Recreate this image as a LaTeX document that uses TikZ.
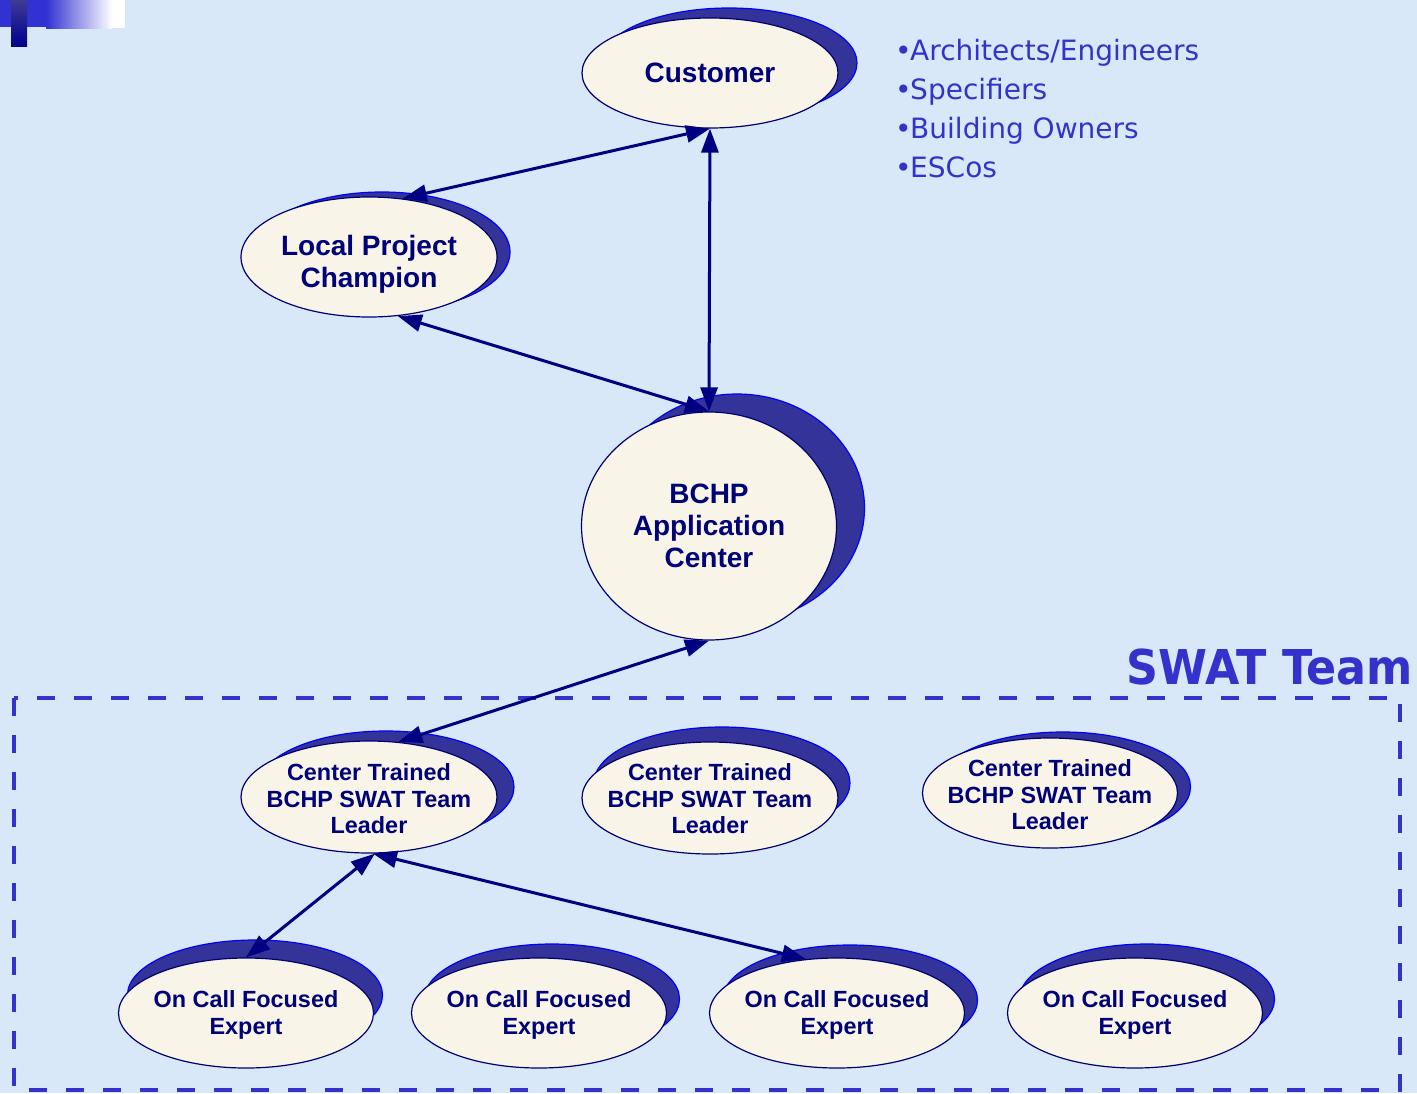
\documentclass[tikz,border=0pt]{standalone}
\usepackage{fontspec}
\setmainfont{Liberation Sans}
\newfontfamily\dvs{DejaVu Sans}
\usetikzlibrary{shapes.geometric,shadows,arrows.meta}
\definecolor{bgc}{RGB}{216,232,248}
\definecolor{cream}{RGB}{248,244,232}
\definecolor{navy}{RGB}{0,0,110}
\definecolor{txtc}{RGB}{0,0,120}
\definecolor{shc}{RGB}{51,51,153}
\definecolor{shedge}{RGB}{0,0,255}
\definecolor{listc}{RGB}{51,51,204}
\definecolor{arrc}{RGB}{0,0,128}
\definecolor{blk}{RGB}{50,50,210}
\definecolor{bartop}{RGB}{60,60,150}
\definecolor{barbot}{RGB}{0,0,140}
\newcommand{\bul}{•\kern-1.5pt}
\begin{document}
\begin{tikzpicture}[x=1pt,y=-1pt,
  ell/.style={ellipse, draw=navy, fill=cream, line width=1.2pt, inner sep=0pt},
  shad/.style 2 args={drop shadow={shadow xshift=#1, shadow yshift=#2, fill=shc, draw=shedge, line width=1.2pt, opacity=1}},
  big/.style={minimum width=256pt, minimum height=110pt},
  lbl/.style={text=txtc, align=center, font=\bfseries\fontsize{28}{32}\selectfont},
  slbl/.style={text=txtc, align=center, font=\bfseries\fontsize{23.4}{26.6}\selectfont},
  litem/.style={text=listc, anchor=base west, inner sep=0pt, font=\dvs\fontsize{28}{39}\selectfont},
  arr/.style={draw=arrc, line width=3pt, {Triangle[length=24pt,width=17pt]}-{Triangle[length=24pt,width=17pt]}},
  swatbox/.style={draw=listc, line width=4pt, dash pattern=on 18pt off 19pt}
]
\fill[bgc] (0,0) rectangle (1417,1093);
\useasboundingbox (0,0) rectangle (1417,1093);
% top-left decoration
\fill[blk] (0,0) rectangle (46,27);
\shade[left color=blk, right color=white] (46,0) rectangle (112,28);
\fill[white] (112,0) rectangle (125,28);
\shade[top color=bartop, bottom color=barbot] (11,0) rectangle (27,46);

% SWAT box
\draw[swatbox] (14,698) rectangle (1400,1090);
\node[text=listc, anchor=base east, inner sep=0pt, font=\dvs\bfseries\fontsize{48}{50}\selectfont] (swat) at (1413,684) {\scalebox{0.925}[1]{SWAT Team}};

% list
\node[litem] (l1) at (895,60) {\bul Architects/Engineers};
\node[litem] (l2) at (895,99) {\bul Specifiers};
\node[litem] (l3) at (895,138) {\bul Building Owners};
\node[litem] (l4) at (895,177) {\bul ESCos};

% ellipses
\node[ell, big, shad={19pt}{10pt}] (cust) at (710,73) {};
\node[lbl] at (cust) {Customer};
\node[ell, minimum width=256pt, minimum height=120pt, shad={13pt}{5pt}] (lpc) at (369,257) {};
\node[lbl] at (369,264) {Local Project\\Champion};
\node[ell, minimum width=255pt, minimum height=228pt, shad={28pt}{18pt}] (bchp) at (709,526) {};
\node[lbl] at (709,526) {BCHP\\Application\\Center};

\node[ell, minimum width=256pt, minimum height=112pt, shad={17pt}{10pt}] (ld1) at (369,797) {};
\node[slbl] at (369,799) {Center Trained\\BCHP SWAT Team\\Leader};
\node[ell, minimum width=256pt, minimum height=112pt, shad={12pt}{15pt}] (ld2) at (710,798) {};
\node[slbl] at (710,799) {Center Trained\\BCHP SWAT Team\\Leader};
\node[ell, minimum width=255pt, minimum height=110pt, shad={13pt}{6pt}] (ld3) at (1050,793) {};
\node[slbl] at (1050,795) {Center Trained\\BCHP SWAT Team\\Leader};

\node[ell, minimum width=255pt, minimum height=110pt, shad={9pt}{18pt}] (ex1) at (246,1013) {};
\node[slbl] at (246,1015) {On Call Focused\\Expert};
\node[ell, minimum width=255pt, minimum height=110pt, shad={13pt}{14pt}] (ex2) at (539,1013) {};
\node[slbl] at (539,1015) {On Call Focused\\Expert};
\node[ell, minimum width=255pt, minimum height=110pt, shad={13pt}{13pt}] (ex3) at (837,1013) {};
\node[slbl] at (837,1015) {On Call Focused\\Expert};
\node[ell, minimum width=255pt, minimum height=110pt, shad={12pt}{14pt}] (ex4) at (1135,1013) {};
\node[slbl] at (1135,1015) {On Call Focused\\Expert};

% connectors
\draw[arr] (cust.south) -- (lpc.60);
\draw[arr] (cust.south) -- (bchp.north);
\draw[arr] (lpc.-64) -- (bchp.north);
\draw[arr] (bchp.south) -- (ld1.62);
\draw[arr] (ld1.-84) -- (ex1.north);
\draw[arr] (ld1.-86) -- (ex3.120);
\end{tikzpicture}
\end{document}
